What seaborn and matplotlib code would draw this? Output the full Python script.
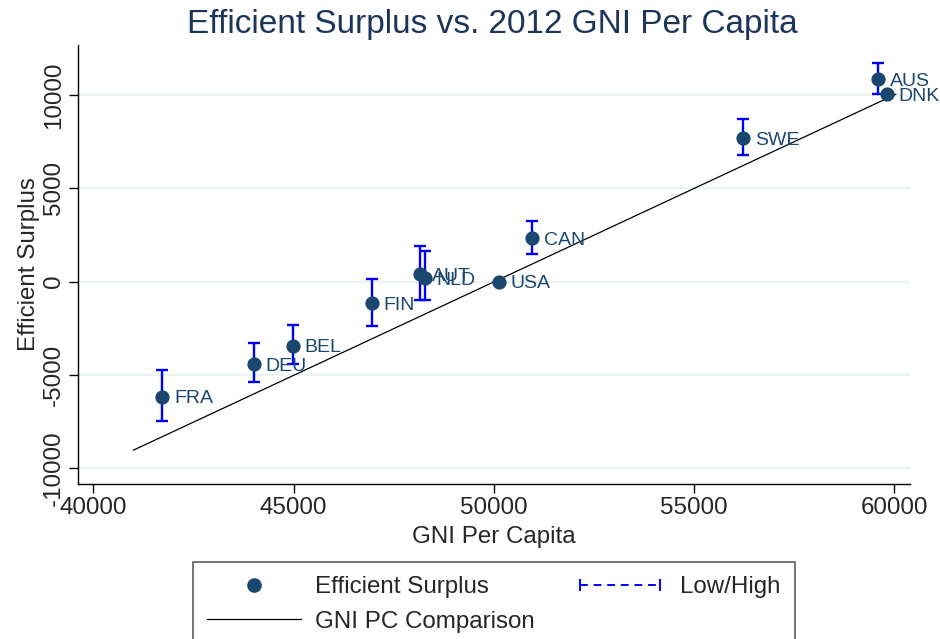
import numpy as np
import pandas as pd
import seaborn as sns
import matplotlib
matplotlib.use("Agg")
import matplotlib.pyplot as plt
from matplotlib.lines import Line2D
from matplotlib.legend_handler import HandlerLine2D

# ---- data ----
countries = ["FRA", "DEU", "BEL", "FIN", "AUT", "NLD", "USA", "CAN", "SWE", "AUS", "DNK"]
gni_pc = [41720, 44010, 44980, 46950, 48150, 48280, 50130, 50960, 56230, 59600, 59810]
surplus = [-6160, -4410, -3430, -1160, 400, 180, 0, 2330, 7690, 10850, 10050]
surplus_low = [-7470, -5390, -4410, -2360, -960, -1000, 0, 1470, 6790, 10060, 9980]
surplus_high = [-4730, -3300, -2320, 130, 1910, 1660, 0, 3270, 8700, 11710, 10110]
line_gni = [41000, 60040]
line_surplus = [-9030, 10050]

x_ticks = [40000, 45000, 50000, 55000, 60000]
y_ticks = [-10000, -5000, 0, 5000, 10000]

df = pd.DataFrame({"country": countries, "gni": gni_pc, "surplus": surplus,
                   "low": surplus_low, "high": surplus_high})
line_df = pd.DataFrame({"gni": line_gni, "surplus": line_surplus})

sns.set_style("white")
plt.rcParams["font.family"] = ["Liberation Sans", "DejaVu Sans"]

MARK = "#1a476f"
TEXT = "#1a476f"
FS = 17.4

fig = plt.figure(figsize=(9.4, 6.39), dpi=100)
ax = fig.add_axes([0.083, 0.2426, 0.885, 0.687])

for yt in y_ticks:
    ax.axhline(yt, color="#eaf2f3", lw=1.6, zorder=0)

sns.lineplot(data=line_df, x="gni", y="surplus", color="black", lw=0.9, ax=ax,
             zorder=2, legend=False)
ax.errorbar(df["gni"], df["surplus"],
            yerr=[df["surplus"] - df["low"], df["high"] - df["surplus"]],
            fmt="none", ecolor="#0000ff", elinewidth=1.7, capsize=4.5, capthick=1.7,
            zorder=3)
sns.scatterplot(data=df, x="gni", y="surplus", color=MARK, s=105, edgecolor=MARK,
                linewidth=0, ax=ax, zorder=4, legend=False)

for c, xv, yv in zip(countries, gni_pc, surplus):
    ax.annotate(c, (xv, yv), xytext=(8.5, -1.5), textcoords="offset points",
                ha="left", va="center", fontsize=14, color=TEXT, zorder=5)

ax.set_xlim(39620, 60390)
ax.set_ylim(-10840, 12690)
ax.set_xticks(x_ticks)
ax.set_yticks(y_ticks)
ax.set_xticklabels([str(v) for v in x_ticks], fontsize=FS)
ax.set_yticklabels([str(v) for v in y_ticks], fontsize=FS, rotation=90, va="center")
ax.tick_params(axis="both", direction="out", length=6.5, width=1, color="black",
               bottom=True, left=True, pad=3)
for s in ["top", "right"]:
    ax.spines[s].set_visible(False)
for s in ["left", "bottom"]:
    ax.spines[s].set_color("black")
    ax.spines[s].set_linewidth(1)

ax.set_xlabel("GNI Per Capita", fontsize=FS, labelpad=5)
ax.set_ylabel("Efficient Surplus", fontsize=FS, labelpad=2)
fig.text(0.524, 0.961, "Efficient Surplus vs. 2012 GNI Per Capita", ha="center",
         va="center", fontsize=24, color="#1c3559")

h_pt = Line2D([], [], marker="o", color=MARK, markersize=9.5, linestyle="none")
h_err = Line2D([], [], color="#0000ff", linestyle=(0, (4, 3)), lw=1.4,
               marker="|", markersize=8, markeredgewidth=1.4)
h_line = Line2D([], [], color="black", lw=0.9)
leg = fig.legend([h_pt, h_line, h_err],
                 ["Efficient Surplus", "GNI PC Comparison", "Low/High"],
                 ncol=2, loc="upper left", bbox_to_anchor=(0.2053, 0.1205),
                 bbox_transform=fig.transFigure, borderaxespad=0,
                 fontsize=FS, frameon=True, fancybox=False, edgecolor="#333333",
                 borderpad=0.58, handlelength=3.9, handletextpad=0.55,
                 columnspacing=1.6, labelspacing=0.52,
                 handler_map={h_err: HandlerLine2D(numpoints=2),
                              h_pt: HandlerLine2D(numpoints=1)})
leg.get_frame().set_linewidth(1.2)

fig.savefig("out.png", dpi=100)
